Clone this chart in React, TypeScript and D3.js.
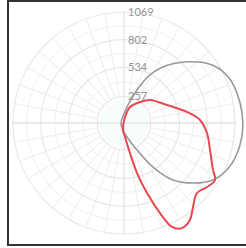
import React from "react";
import * as d3 from "d3";

const ringValues = [257, 534, 802, 1069];
const ringLabels = ["257", "534", "802", "1069"];
const maxValue = 1069;

// angle in degrees clockwise from up, value in cd
const grayAngles = [270, 10.6, 21.5, 28.4, 37, 47.3, 56.9, 66.5, 78.8, 91.9, 101.7, 112.5, 122.6, 131, 139.3, 146.6, 154.3, 167.9, 201.8];
const grayValues = [29, 157, 342, 526, 695, 870, 1020, 1100, 1132, 1145, 1135, 1100, 1018, 881, 724, 508, 289, 138, 52];

const redAngles = [9.5, 20.6, 37.3, 48.5, 67.3, 80.1, 87.7, 96.9, 107.4, 117.8, 122, 127.6, 133.8, 140.6, 145.8, 151.1, 155.2, 158.2, 161.8, 165.4, 168.7, 175.9, 188];
const redValues = [59, 165, 254, 334, 449, 616, 732, 805, 868, 969, 1035, 1010, 974, 1047, 1130, 1156, 1103, 934, 710, 498, 295, 135, 68];

export default function App() {
  const cx = 124;
  const cy = 123;
  const outer = 111;
  const r = d3.scaleLinear().domain([0, maxValue]).range([0, outer]);
  const inner = r(ringValues[0]);

  const line = d3
    .lineRadial<[number, number]>()
    .angle((d) => (d[0] * Math.PI) / 180)
    .radius((d) => r(d[1]))
    .curve(d3.curveCatmullRomClosed.alpha(0.5));

  const gray: [number, number][] = grayAngles.map((a, i) => [a > 180 ? a - 360 : a, grayValues[i]]);
  gray.sort((a, b) => a[0] - b[0]);
  const red: [number, number][] = redAngles.map((a, i) => [a, redValues[i]]);

  const spokes = d3.range(0, 360, 10);

  return (
    <svg
      width={246}
      height={248}
      style={{ position: "fixed", left: 0, top: 0, background: "#fff" }}
    >
      <rect x={8} y={1} width={260} height={244} fill="#fff" stroke="#333" strokeWidth={2} />
      <g transform={`translate(${cx},${cy})`}>
        <circle r={inner - 2} fill="#f7fdfd" />
        {spokes.map((a) => {
          const t = (a * Math.PI) / 180;
          return (
            <line
              key={a}
              x1={Math.sin(t) * inner}
              y1={-Math.cos(t) * inner}
              x2={Math.sin(t) * outer}
              y2={-Math.cos(t) * outer}
              stroke="#ececec"
              strokeWidth={1}
            />
          );
        })}
        {ringValues.map((v) => (
          <circle key={v} r={r(v)} fill="none" stroke="#e8e8e8" strokeWidth={1.2} />
        ))}
        {ringValues.slice(0, 3).map((v, i) => (
          <circle key={"h" + v} r={(r(v) + r(ringValues[i + 1])) / 2} fill="none" stroke="#f0f0f0" strokeWidth={1} />
        ))}
        <line x1={-outer} x2={outer} y1={0} y2={0} stroke="#dedede" strokeWidth={1} />
        <line x1={0} x2={0} y1={-outer} y2={outer} stroke="#e4e4e4" strokeWidth={1} />
        <path d={line(gray) || ""} fill="none" stroke="#9a9a9a" strokeWidth={1.6} />
        <path d={line(red) || ""} fill="none" stroke="#e8474f" strokeWidth={2} />
        {ringValues.map((v, i) => (
          <text
            key={"t" + v}
            x={4}
            y={-r(v)}
            dy="0.35em"
            fontSize={11}
            fill="#929292"
            fontFamily="Lato, 'Open Sans', sans-serif"
          >
            {ringLabels[i]}
          </text>
        ))}
      </g>
    </svg>
  );
}
